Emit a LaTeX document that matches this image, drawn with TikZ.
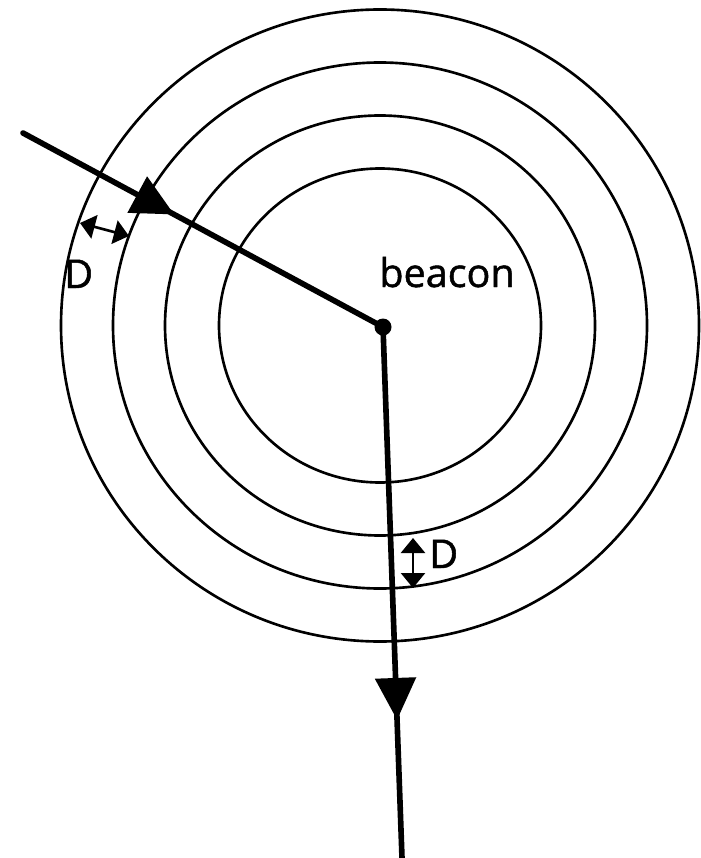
\documentclass[tikz,border=0pt]{standalone}
\usepackage{fontspec}
\setmainfont{Open Sans}
\newfontfamily\lblfont[FakeBold=1.2]{Open Sans}
\usetikzlibrary{arrows.meta,decorations.markings}

\begin{document}
\begin{tikzpicture}[x=0.02cm,y=-0.02cm,
  ring/.style={line width=1.5pt},
  ray/.style={line width=3.2pt,line cap=round},
  midarrow/.style={postaction={decorate,decoration={markings,
    mark=at position #1 with {\arrow{Triangle[length=0.84cm,width=0.8cm]}}}}},
  gap/.style={{Triangle[length=0.3cm,width=0.48cm]}-{Triangle[length=0.3cm,width=0.48cm]},line width=1.5pt},
  lbl/.style={font=\lblfont\fontsize{22.5}{27}\selectfont,inner sep=0pt,anchor=base west}]
 \useasboundingbox (0,0) rectangle (700,858);
 \coordinate (c) at (380,325.5);
 % rings round the beacon
 \foreach \a/\b in {161/157,215/210,267/263,319/316}
   \draw[ring] (c) ellipse [x radius=\a,y radius=\b];
 \node[circle,fill,inner sep=0pt,minimum size=0.34cm] (beacon) at (383,327) {};
 \coordinate (in) at (23,133);
 \coordinate (out) at (402,858);
 \draw[ray,midarrow=0.42] (in) -- (beacon.center);
 \draw[ray,midarrow=0.74] (beacon.center) -- (out);
 \node[lbl] (name) at (379,287) {beacon};
 % spacing D
 \coordinate (d1a) at (80,223);
 \coordinate (d1b) at (129,236);
 \draw[gap] (d1a) -- (d1b);
 \node[lbl] (d1) at (64,288) {D};
 \coordinate (d2a) at (413,538);
 \coordinate (d2b) at (413,588);
 \draw[gap] (d2a) -- (d2b);
 \node[lbl] (d2) at (429,568) {D};
\end{tikzpicture}
\end{document}
